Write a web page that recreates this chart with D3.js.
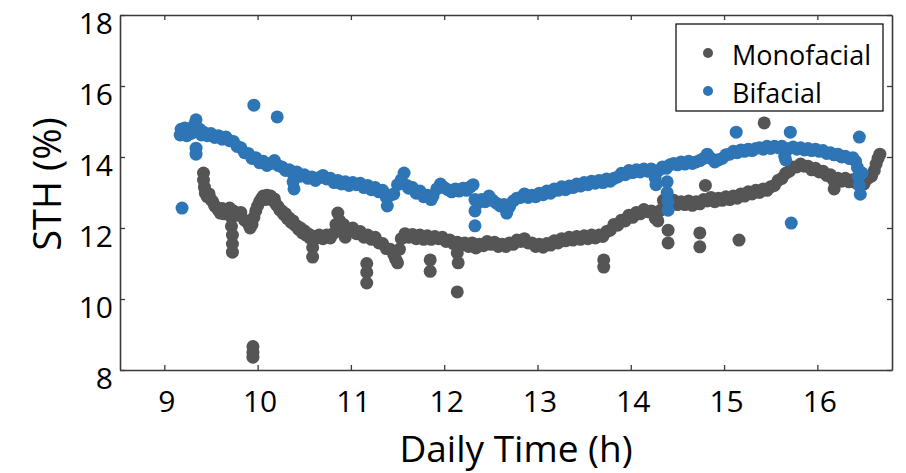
<!DOCTYPE html>
<html>
<head>
<meta charset="utf-8">
<script src="https://cdn.jsdelivr.net/npm/d3@7"></script>
<style>
  html, body { margin: 0; padding: 0; background: #fff; }
  svg { display: block; }
  text { font-family: "Open Sans", "DejaVu Sans", sans-serif; fill: #000; }
</style>
</head>
<body>
<svg id="chart" width="906" height="473"></svg>
<script>
// ---------------- DATA ----------------
const seriesNames = ["Monofacial", "Bifacial"];
const xTicks = [9, 10, 11, 12, 13, 14, 15, 16];
const yTicks = [8, 10, 12, 14, 16, 18];
const xLabel = "Daily Time (h)";
const yLabel = "STH (%)";

// [time (h), STH (%)]
const monofacial = [[9.42,13.55],[9.42,13.35],[9.43,13.15],[9.44,12.98],[9.46,12.88],[9.48,12.96],[9.50,12.80],[9.52,12.74],[9.54,12.62],[9.56,12.58],[9.58,12.50],[9.60,12.42],[9.62,12.55],[9.64,12.40],[9.66,12.52],[9.68,12.44],[9.70,12.56],[9.72,12.30],[9.72,12.05],[9.73,11.80],[9.73,11.55],[9.73,11.32],[9.74,12.48],[9.78,12.36],[9.82,12.44],[9.86,12.22],[9.90,12.12],[9.92,12.00],[9.94,12.10],[9.96,12.30],[9.98,12.48],[10.00,12.62],[10.02,12.74],[10.04,12.82],[10.06,12.90],[10.08,12.80],[10.10,12.92],[10.12,12.84],[10.14,12.90],[10.16,12.78],[10.18,12.82],[10.20,12.66],[10.22,12.60],[10.24,12.50],[10.26,12.48],[10.28,12.38],[10.30,12.40],[10.32,12.26],[10.34,12.28],[10.36,12.16],[10.38,12.20],[10.40,12.08],[10.42,12.06],[10.44,11.96],[10.46,12.00],[10.48,11.86],[10.50,11.92],[10.52,11.80],[10.54,11.84],[10.56,11.72],[10.58,11.78],[10.59,11.45],[10.59,11.18],[10.62,11.70],[10.66,11.80],[10.70,11.70],[10.74,11.80],[10.78,11.72],[10.82,11.86],[10.84,12.10],[10.86,12.42],[10.88,12.20],[10.90,11.96],[10.92,12.10],[10.94,11.74],[10.98,11.92],[11.02,12.00],[11.06,11.84],[11.10,11.90],[11.14,11.74],[11.18,11.80],[11.22,11.68],[11.26,11.74],[11.30,11.58],[11.34,11.56],[11.38,11.42],[11.42,11.40],[11.46,11.24],[11.48,11.12],[11.50,11.02],[11.52,11.40],[11.54,11.70],[11.58,11.84],[11.62,11.74],[11.66,11.82],[11.70,11.70],[11.74,11.80],[11.78,11.68],[11.82,11.78],[11.86,11.68],[11.90,11.76],[11.94,11.70],[11.98,11.74],[12.02,11.62],[12.06,11.66],[12.10,11.56],[12.14,11.60],[12.14,11.30],[12.15,11.02],[12.18,11.52],[12.22,11.58],[12.26,11.48],[12.30,11.58],[12.34,11.44],[12.38,11.54],[12.42,11.50],[12.46,11.62],[12.50,11.54],[12.54,11.60],[12.58,11.48],[12.62,11.54],[12.66,11.48],[12.70,11.58],[12.74,11.54],[12.78,11.66],[12.82,11.62],[12.86,11.70],[12.90,11.58],[12.94,11.58],[12.98,11.48],[13.02,11.54],[13.06,11.46],[13.10,11.56],[13.14,11.52],[13.18,11.64],[13.22,11.58],[13.26,11.70],[13.30,11.64],[13.34,11.74],[13.38,11.66],[13.42,11.76],[13.46,11.68],[13.50,11.78],[13.54,11.70],[13.58,11.80],[13.62,11.72],[13.66,11.80],[13.70,11.76],[13.74,11.90],[13.78,11.94],[13.82,12.10],[13.86,12.08],[13.90,12.22],[13.94,12.20],[13.98,12.36],[14.02,12.30],[14.06,12.44],[14.10,12.40],[14.14,12.52],[14.18,12.46],[14.22,12.48],[14.26,12.28],[14.29,12.20],[14.32,12.50],[14.35,12.78],[14.38,12.84],[14.42,12.72],[14.46,12.78],[14.50,12.66],[14.54,12.74],[14.58,12.66],[14.62,12.76],[14.66,12.64],[14.70,12.74],[14.74,12.68],[14.78,12.80],[14.80,13.20],[14.82,12.76],[14.86,12.86],[14.90,12.74],[14.94,12.84],[14.98,12.78],[15.02,12.88],[15.06,12.80],[15.10,12.90],[15.14,12.84],[15.18,12.96],[15.22,12.90],[15.26,13.02],[15.30,12.96],[15.34,13.06],[15.38,13.00],[15.42,13.10],[15.46,13.06],[15.50,13.16],[15.54,13.20],[15.58,13.34],[15.62,13.40],[15.66,13.54],[15.70,13.60],[15.74,13.72],[15.78,13.72],[15.82,13.80],[15.86,13.74],[15.90,13.74],[15.94,13.64],[15.98,13.68],[16.02,13.58],[16.06,13.60],[16.10,13.48],[16.14,13.50],[16.17,13.36],[16.18,13.10],[16.22,13.40],[16.26,13.32],[16.30,13.40],[16.34,13.30],[16.38,13.36],[16.42,13.26],[16.46,13.32],[16.50,13.24],[16.54,13.40],[16.58,13.46],[16.61,13.62],[16.63,13.80],[16.65,13.96],[16.67,14.08]];

const monofacialOutliers = [[9.95,8.66],[9.95,8.50],[9.95,8.36],[11.17,11.00],[11.17,10.75],[11.17,10.45],[11.85,11.10],[11.85,10.78],[12.14,10.20],[13.71,11.10],[13.71,10.90],[14.40,11.94],[14.40,11.58],[14.74,11.86],[14.74,11.47],[15.16,11.66],[15.43,14.96]];

const bifacial = [[9.17,14.62],[9.18,14.78],[9.20,14.70],[9.22,14.82],[9.24,14.60],[9.26,14.72],[9.28,14.66],[9.30,14.80],[9.32,14.90],[9.34,15.05],[9.34,14.25],[9.34,14.08],[9.36,14.70],[9.38,14.78],[9.40,14.62],[9.42,14.70],[9.46,14.60],[9.50,14.66],[9.54,14.55],[9.58,14.60],[9.62,14.50],[9.66,14.56],[9.70,14.46],[9.74,14.44],[9.78,14.30],[9.82,14.26],[9.86,14.12],[9.90,14.10],[9.94,13.96],[9.98,13.98],[10.02,13.84],[10.06,13.88],[10.10,13.76],[10.14,13.82],[10.18,13.90],[10.22,13.76],[10.26,13.72],[10.30,13.62],[10.34,13.64],[10.38,13.52],[10.38,13.30],[10.39,13.10],[10.42,13.58],[10.46,13.46],[10.50,13.50],[10.54,13.40],[10.58,13.44],[10.62,13.34],[10.66,13.42],[10.70,13.48],[10.74,13.38],[10.78,13.40],[10.82,13.28],[10.86,13.34],[10.90,13.24],[10.94,13.30],[10.98,13.20],[11.02,13.28],[11.06,13.22],[11.10,13.26],[11.14,13.14],[11.18,13.20],[11.22,13.08],[11.26,13.14],[11.30,13.02],[11.34,13.06],[11.38,12.86],[11.39,12.62],[11.42,12.92],[11.46,12.96],[11.50,13.22],[11.54,13.36],[11.57,13.55],[11.60,13.20],[11.62,13.12],[11.66,13.14],[11.70,12.98],[11.74,13.04],[11.78,12.88],[11.82,12.92],[11.86,12.80],[11.88,12.90],[11.92,13.10],[11.96,13.24],[12.00,13.14],[12.04,13.08],[12.08,13.02],[12.12,13.10],[12.16,13.04],[12.20,13.12],[12.24,13.06],[12.28,13.16],[12.31,13.22],[12.33,12.80],[12.33,12.48],[12.36,12.70],[12.40,12.80],[12.44,12.74],[12.48,12.90],[12.52,12.78],[12.56,12.70],[12.60,12.62],[12.64,12.66],[12.67,12.42],[12.70,12.60],[12.74,12.76],[12.78,12.84],[12.82,12.86],[12.86,12.96],[12.90,12.86],[12.94,12.92],[12.98,12.88],[13.02,12.98],[13.06,12.94],[13.10,13.04],[13.14,12.98],[13.18,13.10],[13.22,13.06],[13.26,13.16],[13.30,13.08],[13.34,13.18],[13.38,13.14],[13.42,13.24],[13.46,13.18],[13.50,13.28],[13.54,13.22],[13.58,13.32],[13.62,13.26],[13.66,13.34],[13.70,13.28],[13.74,13.38],[13.78,13.32],[13.82,13.40],[13.86,13.44],[13.90,13.54],[13.94,13.50],[13.98,13.62],[14.02,13.56],[14.06,13.64],[14.10,13.58],[14.14,13.66],[14.18,13.60],[14.22,13.66],[14.26,13.42],[14.27,13.22],[14.30,13.62],[14.34,13.72],[14.38,13.68],[14.39,13.30],[14.39,13.00],[14.40,12.75],[14.40,12.50],[14.42,13.78],[14.46,13.82],[14.50,13.78],[14.54,13.86],[14.58,13.80],[14.62,13.88],[14.66,13.82],[14.70,13.86],[14.74,13.90],[14.78,13.96],[14.82,14.08],[14.86,13.96],[14.90,13.86],[14.94,13.92],[14.98,13.96],[15.02,14.06],[15.06,14.08],[15.10,14.16],[15.14,14.12],[15.18,14.20],[15.22,14.16],[15.26,14.22],[15.30,14.18],[15.34,14.24],[15.38,14.26],[15.42,14.22],[15.46,14.30],[15.50,14.24],[15.54,14.30],[15.58,14.26],[15.62,14.30],[15.65,14.02],[15.66,13.92],[15.70,14.24],[15.74,14.28],[15.78,14.22],[15.82,14.26],[15.86,14.20],[15.90,14.24],[15.94,14.18],[15.98,14.22],[16.02,14.16],[16.06,14.18],[16.10,14.10],[16.14,14.12],[16.18,14.06],[16.22,14.08],[16.26,14.00],[16.30,14.02],[16.34,13.96],[16.38,13.98],[16.41,13.88],[16.43,13.70],[16.44,13.45],[16.45,13.20],[16.46,12.95],[16.48,13.55]];

const bifacialOutliers = [[9.19,12.56],[9.96,15.46],[10.21,15.13],[12.33,12.06],[15.13,14.70],[15.71,14.70],[16.45,14.56],[15.72,12.14]];

const colors = { Monofacial: "#555555", Bifacial: "#2e75b6" };

// ---------------- LAYOUT ----------------
const svg = d3.select("#chart");
const plot = { left: 120, right: 892, top: 15, bottom: 370 };

const x = d3.scaleLinear().domain([8.525, 16.8]).range([plot.left, plot.right]);
const y = d3.scaleLinear().domain([8, 18]).range([plot.bottom, plot.top]);

const axisColor = "#3a3a3a";

// points
const R = 6.5;
const gPts = svg.append("g");
function drawPoints(data, color) {
  gPts.append("g").selectAll("circle").data(data).join("circle")
    .attr("cx", d => x(d[0])).attr("cy", d => y(d[1])).attr("r", R)
    .attr("fill", color);
}
drawPoints(monofacial.concat(monofacialOutliers), colors.Monofacial);
drawPoints(bifacial.concat(bifacialOutliers), colors.Bifacial);

// axes
function styleAxis(g) {
  g.selectAll("path.domain").attr("stroke", axisColor).attr("stroke-width", 1.6);
  g.selectAll(".tick line").attr("stroke", axisColor).attr("stroke-width", 1.3);
}

const gx = svg.append("g").attr("transform", `translate(0,${plot.bottom})`)
  .call(d3.axisBottom(x).tickValues(xTicks).tickFormat(d3.format("d")).tickSizeInner(-5).tickSizeOuter(0));
styleAxis(gx);
gx.selectAll(".tick text").attr("y", 42).attr("dy", 0).attr("dx", 2)
  .style("font-size", "30px").attr("fill", "#000");

const gy = svg.append("g").attr("transform", `translate(${plot.left},0)`)
  .call(d3.axisLeft(y).tickValues(yTicks).tickFormat(d3.format("d")).tickSizeInner(-5).tickSizeOuter(0).tickPadding(7));
styleAxis(gy);
gy.selectAll(".tick text").attr("dy", 18).style("font-size", "30px").attr("fill", "#000");

const gt = svg.append("g").attr("transform", `translate(0,${plot.top})`)
  .call(d3.axisTop(x).tickValues(xTicks).tickFormat("").tickSizeInner(-5).tickSizeOuter(0));
styleAxis(gt);

const gr = svg.append("g").attr("transform", `translate(${plot.right},0)`)
  .call(d3.axisRight(y).tickValues(yTicks).tickFormat("").tickSizeInner(-5).tickSizeOuter(0));
styleAxis(gr);

// axis titles
svg.append("text").attr("x", 516).attr("y", 462).attr("text-anchor", "middle")
  .style("font-size", "37px").text(xLabel);
svg.append("text").attr("transform", "translate(61,184) rotate(-90)")
  .attr("text-anchor", "middle").style("font-size", "38px").text(yLabel);

// legend
const lg = svg.append("g");
lg.append("rect").attr("x", 676).attr("y", 24).attr("width", 207).attr("height", 87)
  .attr("fill", "#fff").attr("stroke", "#000").attr("stroke-width", 1.2);
seriesNames.forEach((name, i) => {
  const cy = 53 + i * 38;
  lg.append("circle").attr("cx", 708).attr("cy", cy).attr("r", 5).attr("fill", colors[name]);
  lg.append("text").attr("x", 732).attr("y", cy + 12).style("font-size", "27px").text(name);
});
</script>
</body>
</html>
